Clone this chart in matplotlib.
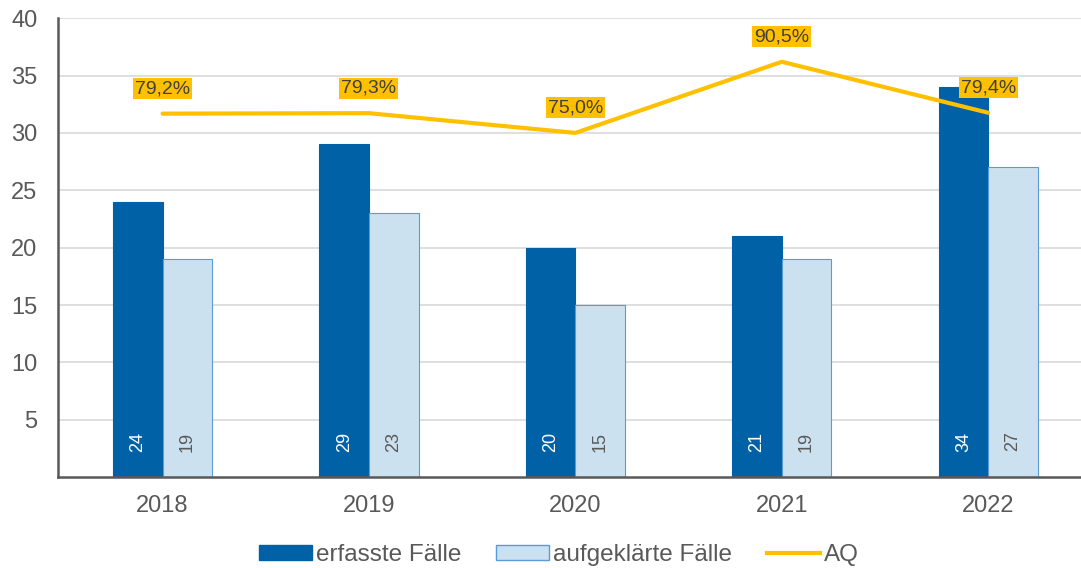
import matplotlib
matplotlib.use("Agg")
import matplotlib.pyplot as plt
import numpy as np
from matplotlib.patches import Patch
from matplotlib.lines import Line2D

# ========== DATA ==========
years = ["2018", "2019", "2020", "2021", "2022"]
erfasst = [24, 29, 20, 21, 34]
aufgeklaert = [19, 23, 15, 19, 27]
aq = [79.2, 79.3, 75.0, 90.5, 79.4]

# ========== STYLE ==========
DARK = "#0061A6"
LIGHT = "#CCE1EF"
LIGHT_EDGE = "#5B9BD5"
GOLD = "#FFC000"
GREY = "#595959"
plt.rcParams["font.family"] = ["Liberation Sans", "DejaVu Sans"]

fig = plt.figure(figsize=(10.81, 5.68), dpi=100)
ax = fig.add_axes([0.054, 0.160, 0.946, 0.808])

x = np.arange(len(years))
w = 0.24
ax.bar(x - w / 2, erfasst, w, color=DARK, edgecolor=DARK, linewidth=0.8, zorder=2)
ax.bar(x + w / 2, aufgeklaert, w, color=LIGHT, edgecolor=LIGHT_EDGE, linewidth=0.8, zorder=2)

for i in range(len(years)):
    ax.text(x[i] - w / 2, 3.1, str(erfasst[i]), rotation=90, ha="center", va="center",
            color="white", fontsize=13, zorder=3)
    ax.text(x[i] + w / 2, 3.1, str(aufgeklaert[i]), rotation=90, ha="center", va="center",
            color=GREY, fontsize=13, zorder=3)

ax.set_xlim(-0.505, 4.45)
ax.set_ylim(0, 40)
ax.set_yticks(range(5, 41, 5))
ax.set_xticks(x)
ax.set_xticklabels(years)
ax.tick_params(axis="both", length=0, labelsize=17, colors=GREY)
ax.tick_params(axis="x", pad=13)
ax.tick_params(axis="y", pad=15)
ax.grid(axis="y", color="#D9D9D9", linewidth=1.2, zorder=0)
ax.set_axisbelow(True)
for s in ["top", "right"]:
    ax.spines[s].set_visible(False)
for s in ["left", "bottom"]:
    ax.spines[s].set_color(GREY)
    ax.spines[s].set_linewidth(1.8)

# AQ on hidden secondary axis
ax2 = ax.twinx()
ax2.set_ylim(0, 100)
ax2.axis("off")
ax2.plot(x, aq, color=GOLD, linewidth=3, solid_capstyle="round", zorder=4)
for i, v in enumerate(aq):
    ax2.annotate(f"{v:.1f}%".replace(".", ","), (x[i], v), xytext=(0, 18),
                 textcoords="offset points", ha="center", va="center",
                 fontsize=14, color="#404040",
                 bbox=dict(boxstyle="square,pad=0.1", facecolor=GOLD, edgecolor="none"))

handles = [
    Patch(facecolor=DARK, edgecolor=DARK),
    Patch(facecolor=LIGHT, edgecolor=LIGHT_EDGE),
    Line2D([0], [0], color=GOLD, linewidth=3),
]
fig.legend(handles, ["erfasste Fälle", "aufgeklärte Fälle", "AQ"], loc="lower center",
           bbox_to_anchor=(0.517, -0.035), ncol=3, frameon=False, fontsize=17.5,
           handlelength=2.18, handleheight=0.58, handletextpad=0.15, columnspacing=1.45,
           labelcolor=GREY)

fig.savefig("out.png", dpi=100)
